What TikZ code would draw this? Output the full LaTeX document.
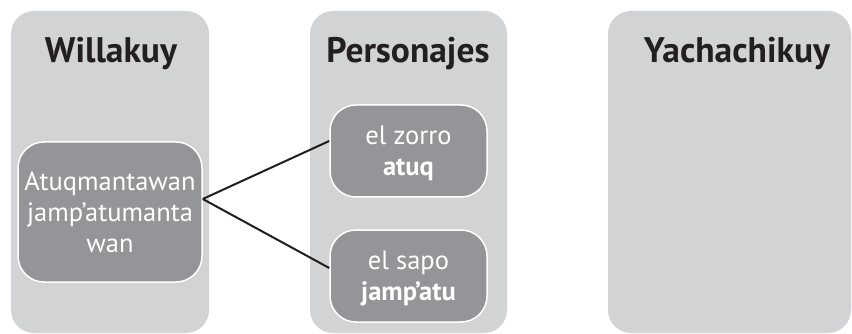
\documentclass[tikz,border=0pt]{standalone}
\usepackage{fontspec}
\setmainfont{PT Sans}
\usepackage{tikz}
\usetikzlibrary{positioning,calc}
\definecolor{panel}{HTML}{D1D3D4}
\definecolor{card}{HTML}{939598}
\definecolor{ink}{HTML}{231F20}

\begin{document}
\begin{tikzpicture}[x=1pt, y=-1pt,
	column/.style={fill=panel, rounded corners=23pt, minimum height=322pt, inner sep=0pt},
	heading/.style={anchor=base, text=ink, font=\fontsize{35.5}{40}\selectfont\bfseries},
	word/.style={fill=card, draw=white, line width=1.5pt, rounded corners=26pt, text=white, align=center, inner sep=0pt, font=\fontsize{26.5}{31}\selectfont}]
	\useasboundingbox (0,0) rectangle (852,334);
	\node[column, minimum width=198pt] (W) at (110,172) {};
	\node[column, minimum width=197pt] (P) at (408.5,172) {};
	\node[column, minimum width=243pt] (Y) at (729.5,172) {};
	
	\node[heading] (Wt) at (111,63) {Willakuy};
	\node[heading] (Pt) at (408,63) {Personajes};
	\node[heading] (Yt) at (737,63) {Yachachikuy};
	
	\node[word, minimum width=184pt, minimum height=140pt] (T) at (110,212) {Atuqmantawan\\jamp’atumanta\\wan};
	\node[word, minimum width=157pt, minimum height=92pt, text depth=0pt] (Z) at (408.5,151) {el zorro\\\textbf{atuq}};
	\node[word, minimum width=157pt, minimum height=92pt, text depth=0pt] (S) at (408.5,276) {el sapo\\\textbf{jamp’atu}};
	
	\path[draw, ink, line width=2pt] ([yshift=13pt]T.east) edge ([yshift=10pt]Z.west);
	\path[draw, ink, line width=2pt] ([yshift=13pt]T.east) edge ([yshift=8pt]S.west);
	
\end{tikzpicture}
\end{document}
